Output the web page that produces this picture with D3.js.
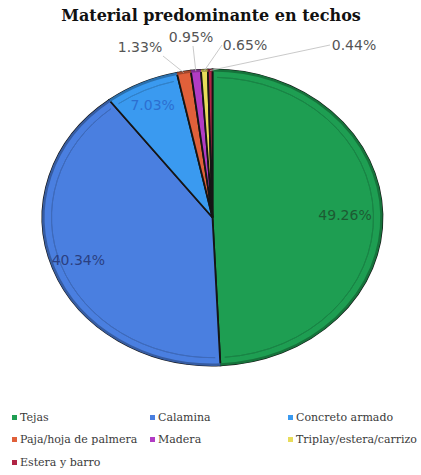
<!DOCTYPE html>
<html>
<head>
<meta charset="utf-8">
<script src="https://cdn.jsdelivr.net/npm/d3@7"></script>
<style>
    body { margin: 0; background: #fff; }
    svg { display: block; }
    .serif { font-family: "DejaVu Serif", "Liberation Serif", serif; }
</style>
</head>
<body>
<div id="chart"></div>
<script>
// data
var categories = ["Tejas", "Calamina", "Concreto armado", "Paja/hoja de palmera", "Madera", "Triplay/estera/carrizo", "Estera y barro"];
var values = [49.26, 40.34, 7.03, 1.33, 0.95, 0.65, 0.44];
var labels = ["49.26%", "40.34%", "7.03%", "1.33%", "0.95%", "0.65%", "0.44%"];
var colors = ["#1e9e52", "#4a7fe0", "#3a9af0", "#e0603a", "#b23cc4", "#e8dc5a", "#b02444"];
var labelColors = ["#1d5a32", "#2b3f82", "#2c6fd0", "#555", "#555", "#555", "#555"];

var width = 421, height = 475;
var cx = 212.5, cy = 217.5, rx = 170, ry = 148;

var svg = d3.select("#chart").append("svg")
    .attr("width", width)
    .attr("height", height);

// Title
svg.append("text")
    .attr("class", "serif")
    .attr("x", 211)
    .attr("y", 21)
    .attr("text-anchor", "middle")
    .style("font-weight", "bold")
    .style("font-size", "16px")
    .style("fill", "#111")
    .text("Material predominante en techos");

var pie = d3.pie().sort(null).value(function (d) { return d; });
var arcs = pie(values);

var arc = d3.arc().innerRadius(0).outerRadius(rx);

// pie drawn as a circle and squashed into an ellipse
var g = svg.append("g")
    .attr("transform", "translate(" + cx + "," + cy + ") scale(1," + (ry / rx) + ")");

g.selectAll("path.slice")
    .data(arcs)
    .enter().append("path")
    .attr("class", "slice")
    .attr("d", arc)
    .attr("fill", function (d, i) { return colors[i]; })
    .attr("stroke", "#151515")
    .attr("stroke-width", 1.8)
    .attr("vector-effect", "non-scaling-stroke");

// bevel line inside the rim
g.selectAll("path.rim")
    .data(arcs.slice(0, 3))
    .enter().append("path")
    .attr("class", "rim")
    .attr("d", function (d) {
        return d3.arc().innerRadius(rx - 9).outerRadius(rx - 9)
            .startAngle(d.startAngle + 0.03).endAngle(d.endAngle - 0.03)();
    })
    .attr("fill", "none")
    .attr("stroke", function (d, i) { return d3.color(colors[i]).darker(0.5); })
    .attr("stroke-width", 1)
    .attr("vector-effect", "non-scaling-stroke");

// outer edge, a bit darker
g.selectAll("path.edge")
    .data(arcs)
    .enter().append("path")
    .attr("class", "edge")
    .attr("d", function (d) {
        return d3.arc().innerRadius(rx - 1).outerRadius(rx - 1)
            .startAngle(d.startAngle).endAngle(d.endAngle)();
    })
    .attr("fill", "none")
    .attr("stroke", function (d, i) { return d3.color(colors[i]).darker(0.9); })
    .attr("stroke-width", 2.5)
    .attr("vector-effect", "non-scaling-stroke");

function pt(angle, f) {
    return [cx + rx * f * Math.sin(angle), cy - ry * f * Math.cos(angle)];
}

// labels inside the big slices
arcs.slice(0, 3).forEach(function (d, i) {
    var mid = (d.startAngle + d.endAngle) / 2;
    var p = pt(mid, [0.78, 0.84, 0.84][i]);
    svg.append("text")
        .attr("x", p[0])
        .attr("y", p[1])
        .attr("dy", "0.35em")
        .attr("text-anchor", "middle")
        .style("font-family", "'DejaVu Sans', sans-serif")
        .style("font-size", "14px")
        .style("fill", labelColors[i])
        .text(labels[i]);
});

// small slices: labels above the pie with leader lines
var outerX = [140, 191, 245, 354];
var outerY = [52, 42, 50, 50];
var lineEnd = [[163, 56], [193, 46], [222, 45], [330, 45]];
arcs.slice(3).forEach(function (d, j) {
    var i = j + 3;
    var mid = (d.startAngle + d.endAngle) / 2;
    var p = pt(mid, 1);
    svg.append("line")
        .attr("x1", lineEnd[j][0])
        .attr("y1", lineEnd[j][1])
        .attr("x2", p[0])
        .attr("y2", p[1] + 1)
        .attr("stroke", "#bbb")
        .attr("stroke-width", 0.8);
    svg.append("text")
        .attr("x", outerX[j])
        .attr("y", outerY[j])
        .attr("text-anchor", "middle")
        .style("font-family", "'DejaVu Sans', sans-serif")
        .style("font-size", "14px")
        .style("fill", labelColors[i])
        .text(labels[i]);
});

// legend
var legendCols = [12, 150, 288];
var legendRows = [421, 443, 466];
var legend = svg.selectAll("g.legend")
    .data(categories)
    .enter().append("g")
    .attr("class", "legend")
    .attr("transform", function (d, i) {
        return "translate(" + legendCols[i % 3] + "," + legendRows[Math.floor(i / 3)] + ")";
    });

legend.append("rect")
    .attr("x", 0)
    .attr("y", -6)
    .attr("width", 5)
    .attr("height", 5)
    .attr("fill", function (d, i) { return colors[i]; });

legend.append("text")
    .attr("class", "serif")
    .attr("x", 8)
    .attr("y", 0)
    .style("font-size", "11px")
    .style("fill", "#3a3a3a")
    .text(function (d) { return d; });
</script>
</body>
</html>
